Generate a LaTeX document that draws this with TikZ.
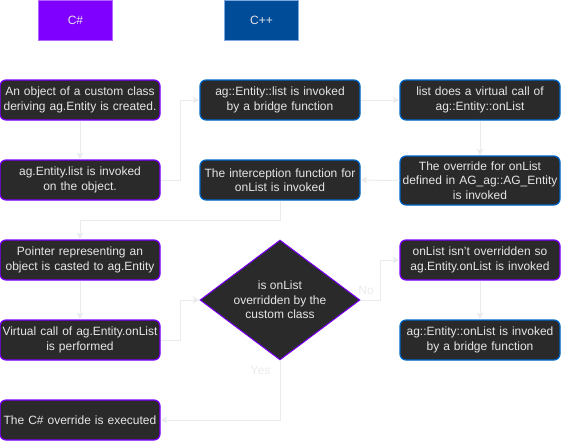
\documentclass[tikz,border=0pt]{standalone}
\usepackage{fontspec}
\setmainfont{Liberation Sans}
\usetikzlibrary{shapes.geometric,arrows.meta}
\definecolor{cspurple}{HTML}{7F00FF}
\definecolor{csborder}{HTML}{B266FF}
\definecolor{cppblue}{HTML}{004C99}
\definecolor{cppborder}{HTML}{7EA6E0}
\definecolor{boxfill}{HTML}{2A2A2A}
\definecolor{boxblue}{HTML}{0066CC}
\definecolor{txt}{HTML}{E6E6E6}
\definecolor{wire}{HTML}{EBEBEB}
\tikzset{
  x=1pt,y=-1pt,
  hdr/.style={draw, line width=1pt, minimum width=74pt, minimum height=40pt, anchor=north west, inner sep=0pt, text=txt, font=\fontsize{12}{14}\selectfont},
  base/.style={draw, line width=1.2pt, rounded corners=6pt, fill=boxfill, text=txt, minimum width=160pt, text width=158pt, align=center, inner sep=0pt, font=\fontsize{12}{14.5}\selectfont},
  csbox/.style={base, draw=cspurple},
  cppbox/.style={base, draw=boxblue},
  dec/.style={diamond, draw=cspurple, line width=1pt, fill=boxfill, text=txt, minimum width=160pt, minimum height=120pt, aspect=1.3333, inner sep=0pt, align=center, font=\fontsize{12}{14.5}\selectfont},
  wirestyle/.style={draw=wire, line width=1pt, -{Stealth[length=7pt,width=7pt,inset=2pt]}},
  lbl/.style={text=wire, font=\fontsize{12}{14}\selectfont, inner sep=0pt}
}
\begin{document}
\begin{tikzpicture}
\useasboundingbox (0,0) rectangle (561,442);
\node[hdr, fill=cspurple, draw=csborder] (hcs) at (38,0) {C\#};
\node[hdr, fill=cppblue, draw=cppborder] (hcpp) at (224,0) {C++};

\node[csbox, minimum height=40pt] (a1) at (80,100) {An object of a custom class\\deriving ag.Entity is created.};
\node[csbox, minimum height=40pt] (a2) at (80,180) {ag.Entity.list is invoked\\on the object.};
\node[cppbox, minimum height=40pt] (b1) at (280,100) {ag::Entity::list is invoked\\by a bridge function};
\node[cppbox, minimum height=40pt] (c1) at (480,100) {list does a virtual call of\\ag::Entity::onList};
\node[cppbox, minimum height=49pt] (c2) at (480,180.5) {The override for onList\\defined in AG\_ag::AG\_Entity\\is invoked};
\node[cppbox, minimum height=40pt] (b2) at (280,180) {The interception function for\\onList is invoked};
\node[csbox, minimum height=40pt] (a3) at (80,260) {Pointer representing an\\object is casted to ag.Entity};
\node[csbox, minimum height=40pt] (a4) at (80,340) {Virtual call of ag.Entity.onList\\is performed};
\node[csbox, minimum height=40pt] (a5) at (80,420) {The C\# override is executed};
\node[dec] (d) at (280,300) {is onList\\overridden by the\\custom class};
\node[csbox, minimum height=40pt] (c3) at (480,260) {onList isn't overridden so\\ag.Entity.onList is invoked};
\node[cppbox, minimum height=40pt] (c4) at (480,340) {ag::Entity::onList is invoked\\by a bridge function};

\coordinate (k1) at (180,180);
\coordinate (k2) at (180,100);
\coordinate (k3) at (280,220);
\coordinate (k4) at (80,220);
\coordinate (k5) at (180,340);
\coordinate (k6) at (180,300);
\coordinate (k7) at (380,300);
\coordinate (k8) at (380,260);
\coordinate (k9) at (280,420);

\path[wirestyle] (a1) -- (a2);
\path[wirestyle] (a2.east) -- (k1) -- (k2) -- (b1.west);
\path[wirestyle] (b1) -- (c1);
\path[wirestyle] (c1) -- (c2);
\path[wirestyle] (c2.west) -- (b2.east);
\path[wirestyle] (b2.south) -- (k3) -- (k4) -- (a3.north);
\path[wirestyle] (a3) -- (a4);
\path[wirestyle] (a4.east) -- (k5) -- (k6) -- (d.west);
\path[wirestyle] (d.east) -- (k7) -- (k8) -- (c3.west);
\path[wirestyle] (d.south) -- (k9) -- (a5.east);
\path[wirestyle] (c3) -- (c4);

\node[lbl] (no) at (366,290) {No};
\node[lbl] (yes) at (260.5,370) {Yes};
\end{tikzpicture}
\end{document}
